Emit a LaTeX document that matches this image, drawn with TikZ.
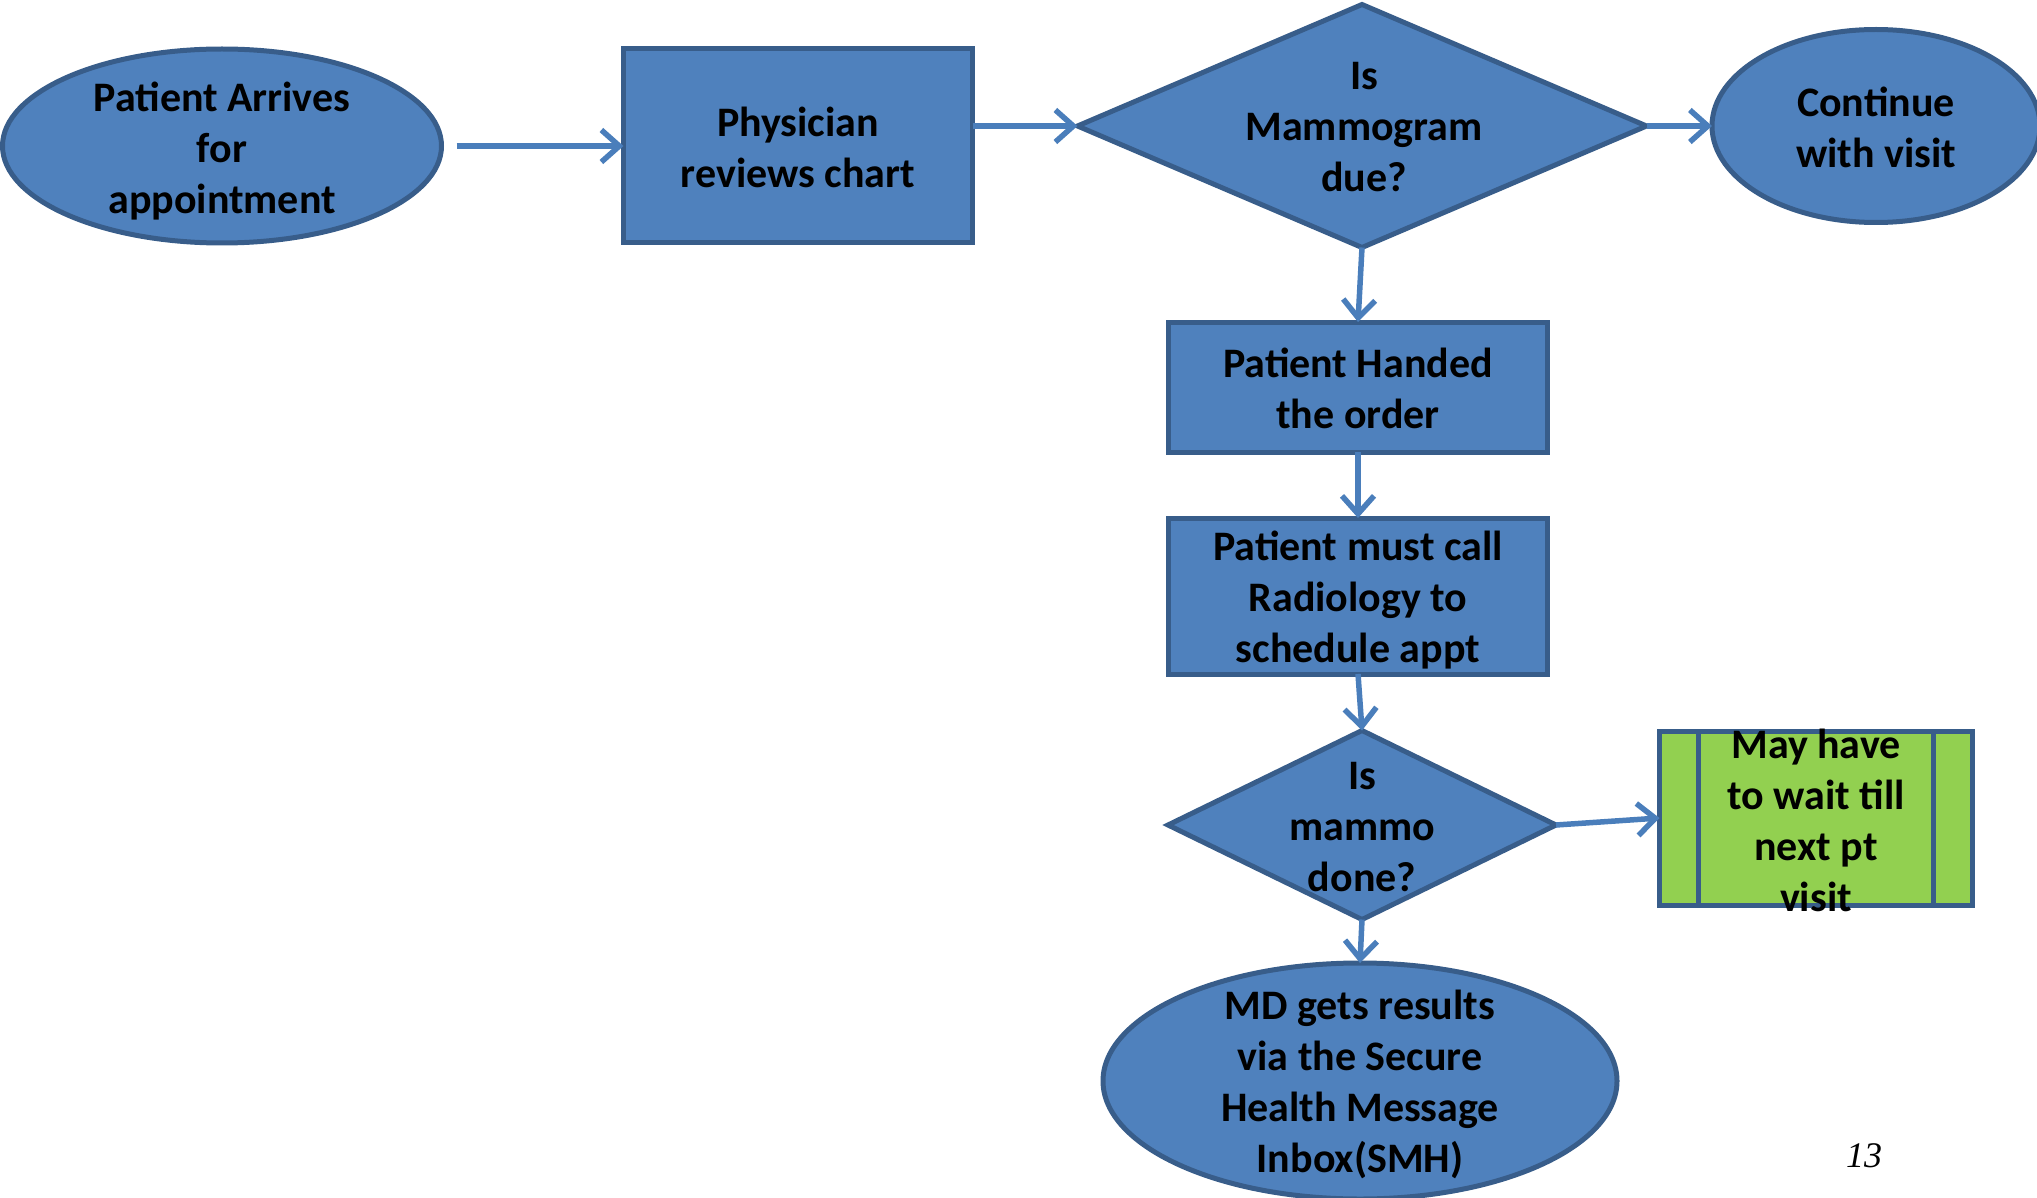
\documentclass[tikz,border=0pt]{standalone}
\usepackage{fontspec}
\setmainfont{Carlito}
\newfontfamily\pgfont{Liberation Serif}
\usetikzlibrary{shapes.geometric,arrows.meta,calc}
\definecolor{fillblue}{HTML}{4F81BD}
\definecolor{edgeblue}{HTML}{385D8A}
\definecolor{linkblue}{HTML}{4A7EBB}
\definecolor{procgreen}{HTML}{92D050}
\begin{document}
\begin{tikzpicture}[x=1pt,y=-1pt,
  shp/.style={draw=edgeblue, fill=fillblue, line width=5pt, inner sep=0pt, outer sep=0pt},
  oval/.style={shp, ellipse},
  box/.style={shp, rectangle},
  dia/.style={shp, diamond},
  txt/.style={font=\fontsize{42}{51}\selectfont\bfseries, align=center, inner sep=0pt, text=black},
  link/.style={draw=linkblue, line width=5.5pt, -{Straight Barb[length=18pt,width=32pt]}},
]
\useasboundingbox (0,0) rectangle (2037,1198);

% shapes
\node[oval, minimum width=439pt, minimum height=194pt] (A) at (222,146) {};
\node[box, minimum width=349pt, minimum height=194pt] (B) at (798,146) {};
\node[dia, minimum width=569pt, minimum height=243pt] (C) at (1362,126) {};
\node[oval, minimum width=328pt, minimum height=193pt] (D) at (1876,126) {};
\node[box, minimum width=379pt, minimum height=130pt] (E) at (1358,387) {};
\node[box, minimum width=379pt, minimum height=156pt] (F) at (1358,596) {};
\node[dia, minimum width=388pt, minimum height=189pt] (G) at (1362,825) {};
\node[box, fill=procgreen, minimum width=313pt, minimum height=174pt] (H) at (1816,818) {};
\draw[draw=edgeblue, line width=5pt] ($(H.north west)+(39,0)$) -- ($(H.south west)+(39,0)$);
\draw[draw=edgeblue, line width=5pt] ($(H.north east)+(-39,0)$) -- ($(H.south east)+(-39,0)$);
\node[oval, minimum width=514pt, minimum height=236pt] (I) at (1360,1081) {};

% texts
\node[txt] (At) at (222,151) {Patient Arrives\\for\\appointment};
\node[txt] (Bt) at (798,147) {Physician\\reviews chart};
\node[txt] (Ct) at (1364,127) {Is\\Mammogram\\due?};
\node[txt] (Dt) at (1876,127) {Continue\\with visit};
\node[txt] (Et) at (1358,388) {Patient Handed\\the order};
\node[txt] (Ft) at (1358,600) {Patient must call\\Radiology to\\schedule appt};
\node[txt] (Gt) at (1362,827) {Is\\mammo\\done?};
\node[txt] (Ht) at (1816,820) {May have\\to wait till\\next pt\\visit};
\node[txt] (It) at (1360,1084) {MD gets results\\via the Secure\\Health Message\\Inbox(SMH)};
\node[font=\pgfont\fontsize{36}{40}\selectfont\itshape, inner sep=0pt] (pg) at (1864,1156) {13};

% connectors
\draw[link, shorten <=15pt] (A) -- (B);
\draw[link] (B.east |- C.west) -- (C.west);
\draw[link] (C.east) -- (D.west);
\draw[link] (C.south) -- (E.north);
\draw[link] (E.south) -- (F.north);
\draw[link] (F.south) -- (G.north);
\draw[link] (G.east) -- (H.west);
\draw[link] (G.south) -- (I.north);
\end{tikzpicture}
\end{document}
